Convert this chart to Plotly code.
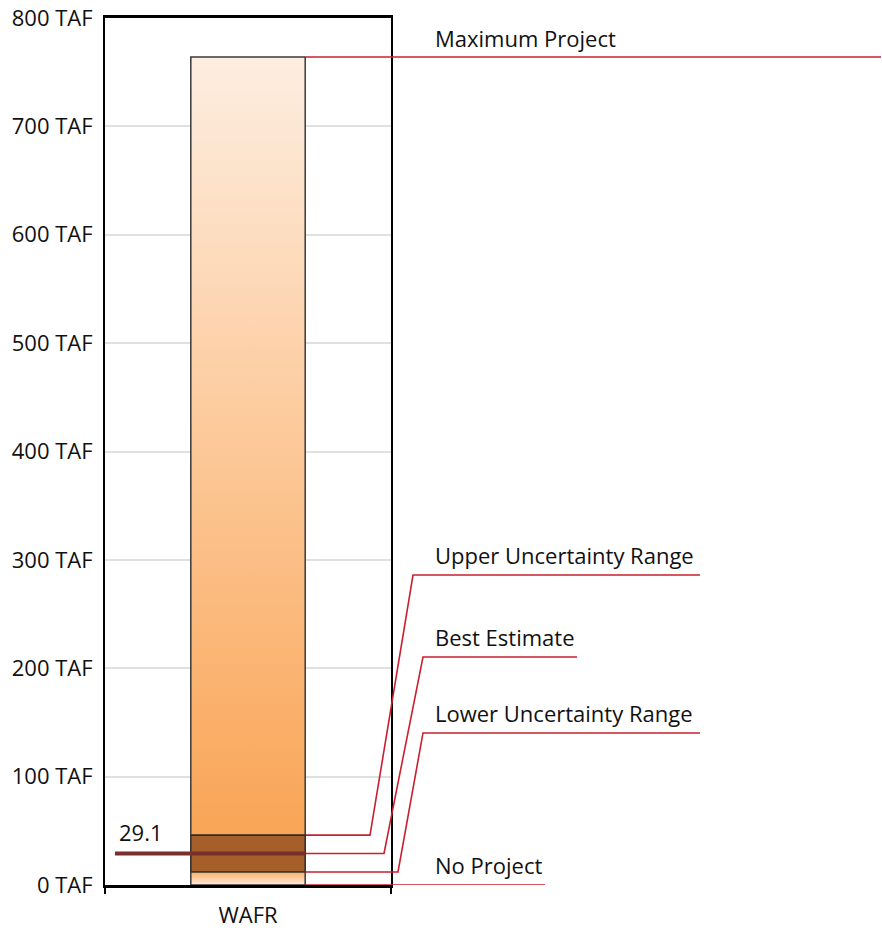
import plotly.graph_objects as go

# Storage values (TAF) for the WAFR scenario
category = ["WAFR"]
no_project = [0]
lower_range = [12]
best_estimate = [29.1]
upper_range = [46]
maximum_project = [764]

y_ticks = [0, 100, 200, 300, 400, 500, 600, 700, 800]
y_tick_text = [f"{v} TAF" for v in y_ticks]

# Label text and the height (TAF) at which each label's leader ends
label_text = ["Maximum Project", "Upper Uncertainty Range", "Best Estimate",
              "Lower Uncertainty Range", "No Project"]
label_level = [763, 286, 210.4, 140.3, 0]

W, H = 882, 928
ML, MR, MT, MB = 105, 0, 18, 43
PLOT_W = W - ML - MR
FRAME_RIGHT = 391
FONT_SIZE = 22


def px(x):
    """Convert a page x pixel into plot-paper fraction."""
    return (x - ML) / PLOT_W


BAR_W = 0.4
x0, x1 = -BAR_W / 2, BAR_W / 2

fig = go.Figure()


def segment(lo, hi, colorscale, line_color="#3a3a3a"):
    fig.add_trace(go.Scatter(
        x=[x0, x1, x1, x0, x0], y=[lo, lo, hi, hi, lo],
        mode="lines", fill="toself",
        fillgradient=dict(type="vertical", colorscale=colorscale, start=lo, stop=hi),
        line=dict(color=line_color, width=1.5),
        hoverinfo="skip", showlegend=False,
    ))


# Upper part of the bar: upper range up to maximum project
segment(upper_range[0], maximum_project[0],
        [[0, "#f9a556"], [0.5, "#fcc898"], [1, "#fdeee1"]])
# Uncertainty band
fig.add_trace(go.Scatter(
    x=[x0, x1, x1, x0, x0],
    y=[lower_range[0], lower_range[0], upper_range[0], upper_range[0], lower_range[0]],
    mode="lines", fill="toself", fillcolor="#a65f28",
    line=dict(color="#2e2a26", width=1.5), hoverinfo="skip", showlegend=False,
))
# Bottom part: no project up to lower range
segment(no_project[0], lower_range[0],
        [[0, "#fdeadb"], [1, "#fbb06a"]])

# Best estimate marker line
fig.add_trace(go.Scatter(
    x=[-0.465, x1], y=[best_estimate[0], best_estimate[0]],
    mode="lines", line=dict(color="#7a2f2f", width=4),
    hoverinfo="skip", showlegend=False,
))

fig.add_annotation(
    x=-0.465, y=best_estimate[0], xref="x", yref="y",
    text=f"{best_estimate[0]}", showarrow=False,
    xanchor="left", yanchor="bottom", xshift=2, yshift=4,
    font=dict(size=FONT_SIZE, color="#111111"),
)

# Leader lines from bar to labels
bar_right = px(306)
RED = "#c8202f"
values = [maximum_project[0], upper_range[0], best_estimate[0], lower_range[0], no_project[0]]
elbows = [None, (370, 413), (384, 423), (398, 423), None]
ends = [881, 700, 577, 700, 545]

for val, lvl, elb, end, txt in zip(values, label_level, elbows, ends, label_text):
    if elb is None:
        path = f"M {bar_right},{val} L {px(end)},{val}"
    else:
        path = (f"M {bar_right},{val} L {px(elb[0])},{val} "
                f"L {px(elb[1])},{lvl} L {px(end)},{lvl}")
    fig.add_shape(type="path", path=path, xref="paper", yref="y",
                  line=dict(color=RED, width=1.6), layer="above")
    fig.add_annotation(
        x=px(433), y=lvl, xref="paper", yref="y", text=txt, showarrow=False,
        xanchor="left", yanchor="bottom", yshift=3,
        font=dict(size=FONT_SIZE, color="#111111"),
    )

fig.update_layout(
    width=W, height=H,
    margin=dict(l=ML, r=MR, t=MT, b=MB, autoexpand=False),
    paper_bgcolor="white", plot_bgcolor="white",
    font=dict(family="Open Sans, Lato, sans-serif", size=FONT_SIZE, color="#111111"),
    xaxis=dict(
        domain=[0, px(FRAME_RIGHT)], range=[-0.5, 0.5], automargin=False,
        tickvals=[0], ticktext=category, ticks="", showgrid=False, zeroline=False,
        showline=True, linecolor="black", linewidth=2.5, mirror=True,
        ticklabelstandoff=9,
        minor=dict(tickvals=[-0.5, 0.5], ticks="outside", ticklen=6,
                   tickcolor="black", tickwidth=2, showgrid=False),
        tickfont=dict(size=FONT_SIZE),
    ),
    yaxis=dict(
        range=[0, 800], tickvals=y_ticks, ticktext=y_tick_text, ticks="",
        automargin=False,
        showgrid=True, gridcolor="#e0e0e0", gridwidth=2, zeroline=False,
        showline=True, linecolor="black", linewidth=2, mirror=True,
        ticklabelstandoff=6, tickfont=dict(size=FONT_SIZE),
    ),
)

fig.write_html("out.html")
